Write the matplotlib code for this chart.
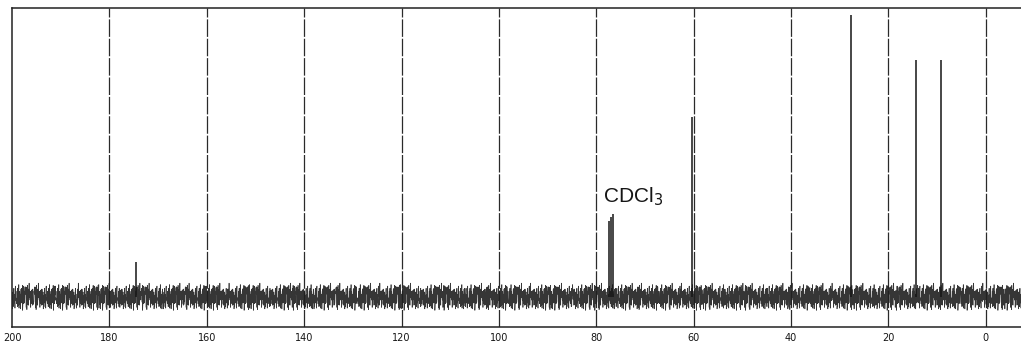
import matplotlib
matplotlib.use("Agg")
import matplotlib.pyplot as plt
import numpy as np

# peak positions (ppm) and heights (% of tallest line)
PEAK_PPM = [174.6, 77.4, 77.0, 76.6, 60.4, 27.6, 14.4, 9.3]
PEAK_HEIGHT = [12.4, 27.0, 28.5, 29.5, 64.0, 100.0, 84.0, 84.0]

# hand-typed baseline noise shape (relative units), tiled along the axis
NOISE = [
    0.4, -0.8, 1.1, -0.3, 0.9, -1.4, 0.2, 0.7, -0.6, 1.5, -1.0, 0.3, -0.2, 1.2, -1.6, 0.8,
    -0.4, 0.1, 1.7, -0.9, 0.6, -1.2, 0.5, -0.1, 1.0, -1.5, 0.9, -0.7, 0.2, 1.3, -0.5, -1.1,
    0.8, -0.3, 1.6, -1.3, 0.4, -0.6, 1.1, -0.2, 0.7, -1.8, 0.3, 1.4, -0.9, 0.5, -0.4, 1.0,
    -1.2, 0.6, 0.1, -0.7, 1.9, -1.0, 0.2, -0.5, 1.2, -1.4, 0.8, -0.1, 0.4, -1.1, 1.5, -0.8,
    0.9, -0.3, 0.5, -1.6, 1.1, -0.6, 0.3, 1.3, -1.3, 0.7, -0.2, 1.0, -0.9, 0.4, -1.7, 1.2,
    -0.4, 0.6, -1.0, 1.4, -0.5, 0.2, -1.2, 0.8, 1.1, -0.7, 0.3, -1.5, 1.6, -0.1, 0.5, -0.8,
]

TICKS = [200, 180, 160, 140, 120, 100, 80, 60, 40, 20, 0]
TICK_LABELS = [str(t) for t in TICKS]

INK = "#151515"

fig = plt.figure(figsize=(10.21, 3.44), dpi=100)
ax = fig.add_axes([0.0118, 0.0494, 0.99, 0.9273])
ax.set_xlim(200, -7.6)
ax.set_ylim(-10.6, 102.5)

# baseline noise
ppm = np.linspace(200, -7.6, 4500)
noise = np.array([NOISE[(i * 7 + i // len(NOISE)) % len(NOISE)] for i in range(len(ppm))])
ax.plot(ppm, noise * 2.6, color="#202020", linewidth=0.5, alpha=0.9)

# grid lines every 20 ppm
for t in TICKS[1:]:
    ax.axvline(t, color="#2a2a2a", linewidth=0.9, linestyle=(0, (14, 1.5)), zorder=1)

# peaks
ax.vlines(PEAK_PPM, 0, PEAK_HEIGHT, color=INK, linewidth=1.1, zorder=3)

ax.text(78.7, 35.5, "CDCl$_3$", fontsize=15, color=INK, ha="left", va="center",
        family="Liberation Sans")

for side in ["top", "bottom", "left"]:
    ax.spines[side].set_color("#222222")
    ax.spines[side].set_linewidth(1.1)
ax.spines["right"].set_visible(False)

ax.set_xticks(TICKS)
ax.set_xticklabels(TICK_LABELS, fontsize=7, color=INK)
ax.tick_params(axis="x", length=0, pad=4)
ax.set_yticks([])

fig.savefig("out.png", dpi=100, facecolor="white")
